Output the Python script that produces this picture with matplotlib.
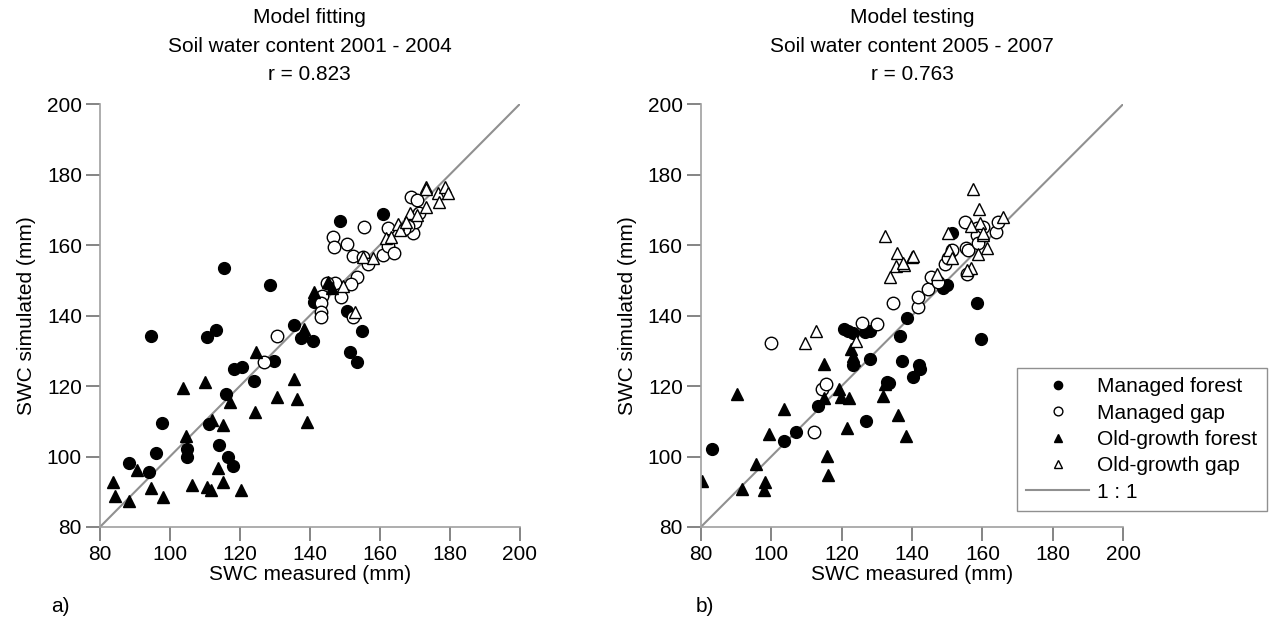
import numpy as np
import matplotlib
matplotlib.use("Agg")
import matplotlib.pyplot as plt

plt.rcParams['font.family'] = ['Liberation Sans', 'DejaVu Sans']

# ---- model fitting 2001-2004 ----
fit_mf_x = [88.2, 94.1, 94.5, 95.9, 97.6, 105, 105, 110.5, 111.2, 113.3, 114.1, 115.4, 116, 116.6, 118.1,
            118.4, 120.6, 123.9, 128.6, 129.7, 135.4, 137.6, 140.8, 141.1, 148.6, 150.5, 151.4, 153.4, 154.9, 161]
fit_mf_y = [98.1, 95.7, 134.3, 101.1, 109.4, 102.1, 100, 134, 109.1, 135.8, 103.3, 153.5, 117.8, 100, 97.3,
            124.8, 125.3, 121.5, 148.7, 127.2, 137.4, 133.5, 132.8, 143.9, 166.9, 141.4, 129.6, 126.9, 135.6, 168.8]

fit_mg_x = [130.5, 127, 169, 170.7, 155.5, 146.5, 147, 150.5, 152.2, 155.2, 156.7, 161, 162.4, 164.1, 162.4,
            169.5, 170, 171.2, 153.5, 151.9, 147.3, 144.8, 148.9, 143.6, 143.3, 143.1, 143.1, 152.4, 168, 167]
fit_mg_y = [134.1, 126.7, 173.5, 172.8, 165, 162.2, 159.5, 160.3, 156.9, 156.5, 154.6, 157.2, 159.7, 157.8, 164.7,
            163.5, 166.6, 169, 151, 148.9, 149.1, 149.1, 145.2, 145.5, 143.5, 141.1, 139.7, 139.7, 165.5, 164.5]

fit_of_x = [124.5, 110, 103.6, 135.4, 130.5, 136.4, 124.3, 139.3, 117.3, 111.9, 115.2, 104.5, 113.8, 90.5, 83.8,
            84.3, 88.4, 94.5, 98.1, 106.4, 110.5, 111.7, 115.2, 120.4, 138.3, 141.2, 146.4, 145.2, 137.9]
fit_of_y = [129.7, 121.2, 119.3, 121.9, 117, 116.3, 112.7, 109.7, 115.5, 110.4, 108.9, 105.9, 96.8, 96.2, 92.7,
            88.9, 87.5, 91, 88.4, 91.9, 91.3, 90.5, 92.7, 90.4, 136.1, 146.7, 147.7, 149.6, 135.4]

fit_og_x = [173.1, 173.3, 176.5, 178.6, 179.5, 177, 173.3, 168.6, 165.2, 165.7, 161.9, 163.3, 155.2, 158.1,
            149.5, 152.9, 167.5, 170.5]
fit_og_y = [176.5, 175.8, 174.8, 176.5, 174.8, 172.1, 170.7, 169, 166.1, 164.3, 161.9, 162.4, 156.7, 156.2,
            148.5, 141.1, 166.5, 168.5]

# ---- model testing 2005-2007 ----
tst_mf_x = [83.3, 103.7, 106.9, 113.4, 120.7, 121.9, 123.1, 126.6, 128, 123.3, 128.2, 126.8, 133, 133.5,
            136.6, 137.2, 138.5, 142.1, 142.3, 140.2, 148.7, 149.9, 151.3, 158.6, 159.5]
tst_mf_y = [102.1, 104.4, 106.9, 114.4, 136.1, 135.6, 135, 135.4, 135.7, 126, 127.6, 110.1, 121.2, 120.8,
            134.2, 127.2, 139.2, 126, 124.7, 122.6, 147.7, 148.7, 163.3, 143.6, 133.3]

tst_mg_x = [99.8, 112.2, 114.3, 115.5, 125.9, 130, 134.5, 141.8, 141.6, 144.5, 145.3, 149.4, 150.3, 151.3,
            155.4, 156, 155.1, 158.4, 158.4, 158.7, 160.3, 163.9, 164.3, 155.7, 147.5]
tst_mg_y = [132.1, 106.9, 119.1, 120.5, 138, 137.5, 143.6, 142.3, 145.3, 147.4, 150.8, 154.5, 156.2, 158.6,
            159.2, 158.6, 166.6, 164.7, 162.8, 160.5, 165.2, 163.8, 166.6, 151.8, 149.5]

tst_of_x = [80.2, 90.3, 91.8, 95.8, 98.2, 97.9, 99.4, 103.7, 115.1, 115.1, 115.7, 116, 119.3, 119.8, 122.1,
            121.4, 122.6, 123.1, 123.5, 131.7, 135.9, 132.3, 138.2]
tst_of_y = [93.1, 117.7, 90.8, 97.8, 92.7, 90.5, 106.3, 113.4, 126.2, 116.7, 100.2, 94.8, 119.1, 117, 116.5,
            108, 130.5, 128.5, 127.4, 117.2, 111.8, 120.5, 105.8]

tst_og_x = [132.4, 135.8, 140.1, 135.4, 137.7, 133.7, 112.6, 109.6, 124.1, 157.3, 158.9, 159.2, 156.7, 160.1,
            161.4, 158.8, 165.8, 156.7, 155.6, 150.6, 151.3, 150.3, 147.2, 140.2, 137.4, 160.3]
tst_og_y = [162.6, 157.8, 156.7, 154.1, 154.3, 151, 135.6, 132.3, 132.9, 175.9, 170.1, 166.3, 165.4, 162.8,
            159.3, 157.6, 168, 153.4, 152.9, 158.6, 156.2, 163.3, 151.8, 156.9, 154.8, 163.3]

titles = ["Model fitting\nSoil water content 2001 - 2004\nr = 0.823",
          "Model testing\nSoil water content 2005 - 2007\nr = 0.763"]
ticks = [80, 100, 120, 140, 160, 180, 200]
fs = 15

fig = plt.figure(figsize=(12.72, 6.34), dpi=100)
ax1 = fig.add_axes([0.0786, 0.1688, 0.330, 0.667])
ax2 = fig.add_axes([0.551, 0.1688, 0.332, 0.667])

data = [(fit_mf_x, fit_mf_y, fit_mg_x, fit_mg_y, fit_of_x, fit_of_y, fit_og_x, fit_og_y),
        (tst_mf_x, tst_mf_y, tst_mg_x, tst_mg_y, tst_of_x, tst_of_y, tst_og_x, tst_og_y)]

for ax, d, title in zip([ax1, ax2], data, titles):
    ax.plot([80, 200], [80, 200], color='#909090', lw=1.5, label='1 : 1', zorder=1)
    ax.plot(d[0], d[1], 'o', color='black', ms=8.5, ls='none', label='Managed forest')
    ax.plot(d[2], d[3], 'o', mfc='white', mec='black', mew=1.0, ms=9, ls='none', label='Managed gap')
    ax.plot(d[4], d[5], '^', color='black', ms=8.5, ls='none', label='Old-growth forest')
    ax.plot(d[6], d[7], '^', mfc='white', mec='black', mew=1.0, ms=8.5, ls='none', label='Old-growth gap')
    ax.set_xlim(80, 200)
    ax.set_ylim(80, 200)
    ax.set_xticks(ticks)
    ax.set_yticks(ticks)
    for s in ['top', 'right']:
        ax.spines[s].set_visible(False)
    for s in ['left', 'bottom']:
        ax.spines[s].set_color('#a0a0a0')
        ax.spines[s].set_linewidth(1.2)
    ax.tick_params(direction='out', length=10, width=1.2, color='#707070', labelsize=fs, pad=3)
    ax.set_xlabel('SWC measured (mm)', fontsize=fs, labelpad=1)
    ax.set_ylabel('SWC simulated (mm)', fontsize=fs, labelpad=8)
    ax.set_title(title, fontsize=fs, linespacing=1.65, pad=17)

fig.text(0.04, 0.035, 'a)', fontsize=fs)
fig.text(0.547, 0.035, 'b)', fontsize=fs)

h, l = ax2.get_legend_handles_labels()
order = [1, 2, 3, 4, 0]
leg = ax2.legend([h[i] for i in order], [l[i] for i in order], loc='upper left',
                 bbox_to_anchor=(0.7995, 0.4196), bbox_transform=fig.transFigure,
                 fontsize=fs, fancybox=False, framealpha=1, edgecolor='#909090',
                 markerscale=0.7, handlelength=3.0, handletextpad=0.4, labelspacing=0.35,
                 borderpad=0.45, borderaxespad=0)
leg.get_frame().set_linewidth(1.0)

plt.savefig('out.png', dpi=100)
